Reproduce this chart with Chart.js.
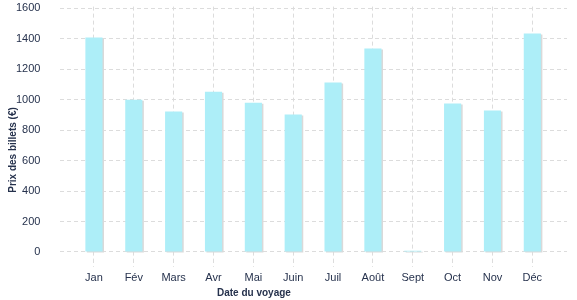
<!DOCTYPE html>
<html>
<head>
<meta charset="utf-8">
<script src="https://cdn.jsdelivr.net/npm/chart.js@4"></script>
<style>
  html, body { margin: 0; padding: 0; background: #fff; }
  #wrap { width: 577px; height: 300px; }
</style>
</head>
<body>
<div id="wrap"><canvas id="prixChart"></canvas></div>
<script>
// données
const mois = ["Jan", "Fév", "Mars", "Avr", "Mai", "Juin", "Juil", "Août", "Sept", "Oct", "Nov", "Déc"];
const prix = [1408, 1000, 922, 1052, 980, 902, 1112, 1336, 8, 975, 928, 1435];
const yTicks = [0, 200, 400, 600, 800, 1000, 1200, 1400, 1600];

const textColor = "#26324d";
const gridColor = "#dcdcdc";
const fontFam = "'Liberation Sans', Arial, sans-serif";

// ombre grise décalée sous les barres
const barShadow = {
    id: "barShadow",
    beforeDatasetsDraw(chart) {
        const ctx = chart.ctx;
        ctx.save();
        ctx.shadowColor = "#d9d9d9";
        ctx.shadowBlur = 0;
        ctx.shadowOffsetX = 1.5;
        ctx.shadowOffsetY = 1;
    },
    afterDatasetsDraw(chart) {
        chart.ctx.restore();
    }
};

// titres des axes
const axisTitles = {
    id: "axisTitles",
    afterDraw(chart) {
        const ctx = chart.ctx;
        ctx.save();
        ctx.fillStyle = textColor;
        ctx.font = "bold 10px " + fontFam;
        ctx.textBaseline = "middle";
        ctx.textAlign = "left";
        ctx.fillText("Date du voyage", 217, 293);
        ctx.translate(13, 150);
        ctx.rotate(-Math.PI / 2);
        ctx.textAlign = "center";
        ctx.fillText("Prix des billets (€)", 0, 0);
        ctx.restore();
    }
};

new Chart(document.getElementById("prixChart"), {
    type: "bar",
    data: {
        datasets: [{
            label: "Prix",
            data: prix.map((v, i) => ({ x: i, y: v })),
            backgroundColor: "#adeef8",
            borderWidth: 0,
            categoryPercentage: 1,
            barPercentage: 0.43
        }]
    },
    plugins: [barShadow, axisTitles],
    options: {
        responsive: true,
        maintainAspectRatio: false,
        animation: false,
        layout: { padding: { left: 16, right: 10, top: 0, bottom: 10 } },
        plugins: {
            legend: { display: false },
            tooltip: { enabled: false }
        },
        scales: {
            x: {
                type: "linear",
                offset: false,
                min: -0.84,
                max: 11.87,
                afterBuildTicks: s => { s.ticks = mois.map((m, i) => ({ value: i })); },
                ticks: {
                    callback: v => mois[v],
                    color: textColor,
                    font: { family: fontFam, size: 11 },
                    padding: 5,
                    maxRotation: 0,
                    autoSkip: false
                },
                grid: {
                    offset: false,
                    color: gridColor,
                    tickBorderDash: [4, 3],
                    tickColor: gridColor,
                    tickLength: 8
                },
                border: { display: false, dash: [4, 3] }
            },
            y: {
                min: -45,
                max: 1611,
                afterBuildTicks: s => { s.ticks = yTicks.map(v => ({ value: v })); },
                ticks: {
                    callback: v => String(v),
                    color: textColor,
                    font: { family: fontFam, size: 11 },
                    padding: 0
                },
                grid: {
                    color: gridColor,
                    tickColor: "rgba(0,0,0,0)",
                    tickLength: 20
                },
                border: { display: false, dash: [4, 3] }
            }
        }
    }
});
</script>
</body>
</html>
